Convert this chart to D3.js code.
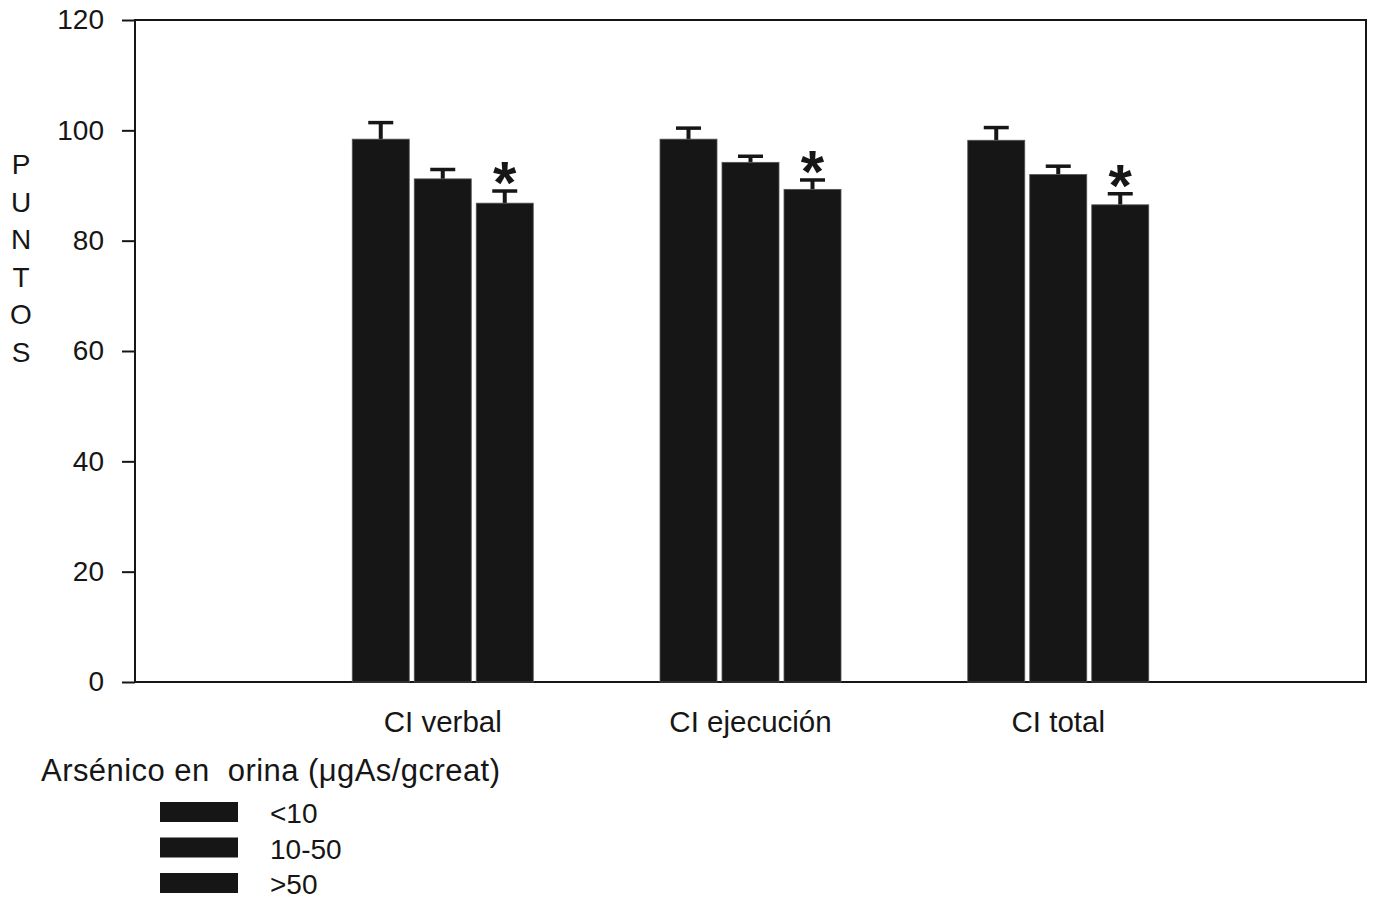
<!DOCTYPE html>
<html>
<head>
<meta charset="utf-8">
<script src="https://cdn.jsdelivr.net/npm/d3@7"></script>
<style>
  body { margin: 0; background: #ffffff; }
  svg { display: block; }
</style>
</head>
<body>
<svg id="chart" width="1376" height="900"></svg>
<script>
// data
var categories = ['CI verbal', 'CI ejecución', 'CI total'];
var groups = ['<10', '10-50', '>50'];
var means = [
  [98.4, 91.2, 86.8],
  [98.4, 94.2, 89.3],
  [98.2, 92.0, 86.5]
];
var errors = [
  [3.0, 1.7, 2.2],
  [2.0, 1.1, 1.7],
  [2.3, 1.5, 2.0]
];
var significant = [false, false, true];
var yTicks = [0, 20, 40, 60, 80, 100, 120];

var svg = d3.select('#chart');
var font = 'Liberation Sans, Arial, sans-serif';
var fontSize = '28px';
var ink = '#161616';

var plotLeft = 135, plotRight = 1366, plotTop = 20, plotBottom = 682;

var x = d3.scalePoint()
  .domain(categories)
  .range([plotLeft, plotRight])
  .padding(1);

var y = d3.scaleLinear()
  .domain([0, 120])
  .range([plotBottom, plotTop]);

var barW = 57;
var barStep = 62;

svg.append('rect')
  .attr('width', 1376)
  .attr('height', 900)
  .style('fill', '#ffffff');

// frame
svg.append('rect')
  .attr('x', plotLeft)
  .attr('y', plotTop)
  .attr('width', plotRight - plotLeft)
  .attr('height', plotBottom - plotTop)
  .style('fill', 'none')
  .style('stroke', ink)
  .style('stroke-width', 2);

// y axis ticks and labels
var yAxis = svg.append('g')
  .attr('transform', 'translate(' + plotLeft + ',0)')
  .call(d3.axisLeft(y).tickValues(yTicks).tickSize(13).tickPadding(18).tickSizeOuter(0));

yAxis.select('.domain').remove();
yAxis.selectAll('.tick line')
  .style('stroke', ink)
  .style('stroke-width', 2);
yAxis.selectAll('.tick text')
  .style('font-family', font)
  .style('font-size', fontSize)
  .style('fill', ink);

// axis title, one letter per line
var title = 'PUNTOS'.split('');
svg.selectAll('.y-title')
  .data(title)
  .enter()
  .append('text')
  .attr('class', 'y-title')
  .attr('x', 21)
  .attr('y', function(d, i) { return 174 + i * 37.5; })
  .style('text-anchor', 'middle')
  .style('font-family', font)
  .style('font-size', fontSize)
  .style('fill', ink)
  .text(function(d) { return d; });

// x labels
svg.selectAll('.x-label')
  .data(categories)
  .enter()
  .append('text')
  .attr('class', 'x-label')
  .attr('x', function(d) { return x(d); })
  .attr('y', 732)
  .style('text-anchor', 'middle')
  .style('font-family', font)
  .style('font-size', '29.5px')
  .style('fill', ink)
  .text(function(d) { return d; });

// bars
var rows = [];
categories.forEach(function(c, ci) {
  groups.forEach(function(g, gi) {
    rows.push({ cat: c, gi: gi, mean: means[ci][gi], err: errors[ci][gi], sig: significant[gi] });
  });
});

function cx(d) {
  return x(d.cat) + (d.gi - 1) * barStep;
}

svg.selectAll('.err-line')
  .data(rows)
  .enter()
  .append('line')
  .attr('class', 'err-line')
  .attr('x1', cx)
  .attr('x2', cx)
  .attr('y1', function(d) { return y(d.mean); })
  .attr('y2', function(d) { return y(d.mean + d.err); })
  .style('stroke', ink)
  .style('stroke-width', 4);

svg.selectAll('.err-cap')
  .data(rows)
  .enter()
  .append('line')
  .attr('class', 'err-cap')
  .attr('x1', function(d) { return cx(d) - 12.5; })
  .attr('x2', function(d) { return cx(d) + 12.5; })
  .attr('y1', function(d) { return y(d.mean + d.err); })
  .attr('y2', function(d) { return y(d.mean + d.err); })
  .style('stroke', ink)
  .style('stroke-width', 3.5);

svg.selectAll('.bar')
  .data(rows)
  .enter()
  .append('rect')
  .attr('class', 'bar')
  .attr('x', function(d) { return cx(d) - barW / 2; })
  .attr('y', function(d) { return y(d.mean); })
  .attr('width', barW)
  .attr('height', function(d) { return y(0) - y(d.mean); })
  .style('fill', ink)
  .style('stroke', '#555555')
  .style('stroke-width', 0.8);

svg.selectAll('.star')
  .data(rows.filter(function(d) { return d.sig; }))
  .enter()
  .append('text')
  .attr('class', 'star')
  .attr('x', cx)
  .attr('y', function(d) { return y(d.mean + d.err) + 12; })
  .style('text-anchor', 'middle')
  .style('font-family', font)
  .style('font-size', '60px')
  .style('font-weight', 'bold')
  .style('fill', ink)
  .text('*');

// legend
svg.append('text')
  .attr('x', 41)
  .attr('y', 781)
  .attr('textLength', 459)
  .attr('lengthAdjust', 'spacing')
  .style('font-family', font)
  .style('font-size', '31px')
  .style('fill', ink)
  .text('Arsénico en\u00a0 orina (\u03bcgAs/gcreat)');

var legend = svg.selectAll('.legend-item')
  .data(groups)
  .enter()
  .append('g')
  .attr('class', 'legend-item')
  .attr('transform', function(d, i) {
    return 'translate(160,' + (802 + i * 35.5) + ')';
  });

legend.append('rect')
  .attr('width', 78)
  .attr('height', 20)
  .style('fill', ink);

legend.append('text')
  .attr('x', 110)
  .attr('y', 21)
  .style('font-family', font)
  .style('font-size', fontSize)
  .style('fill', ink)
  .text(function(d) { return d; });
</script>
</body>
</html>
